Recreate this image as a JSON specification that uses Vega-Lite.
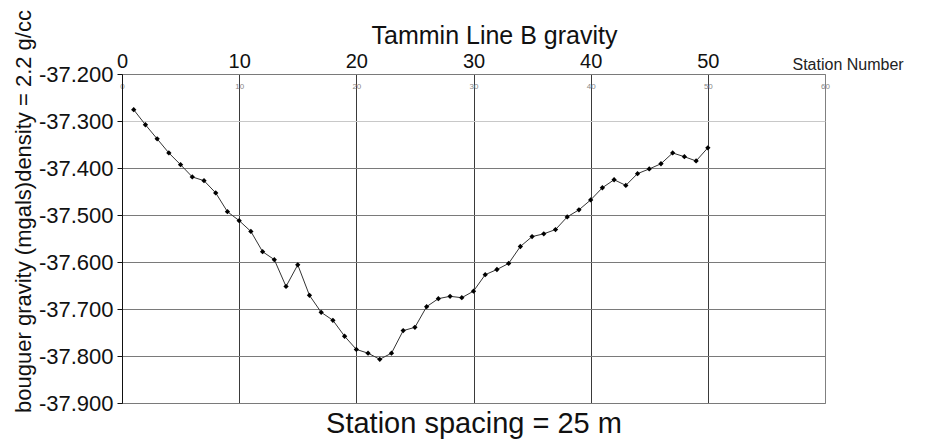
{
  "$schema": "https://vega.github.io/schema/vega-lite/v6.json",
  "width": 703,
  "height": 329,
  "autosize": {"type": "none"},
  "padding": {"left": 122, "top": 74, "right": 111, "bottom": 40},
  "background": "white",
  "title": {"text": "Tammin Line B gravity", "fontSize": 25, "font": "Liberation Sans", "fontWeight": "normal", "color": "#111", "dx": 21, "offset": -39},
  "data": {"values": [
    {"station": 1, "gravity": -37.276},
    {"station": 2, "gravity": -37.308},
    {"station": 3, "gravity": -37.338},
    {"station": 4, "gravity": -37.368},
    {"station": 5, "gravity": -37.393},
    {"station": 6, "gravity": -37.419},
    {"station": 7, "gravity": -37.427},
    {"station": 8, "gravity": -37.453},
    {"station": 9, "gravity": -37.493},
    {"station": 10, "gravity": -37.512},
    {"station": 11, "gravity": -37.535},
    {"station": 12, "gravity": -37.578},
    {"station": 13, "gravity": -37.595},
    {"station": 14, "gravity": -37.652},
    {"station": 15, "gravity": -37.606},
    {"station": 16, "gravity": -37.671},
    {"station": 17, "gravity": -37.707},
    {"station": 18, "gravity": -37.724},
    {"station": 19, "gravity": -37.758},
    {"station": 20, "gravity": -37.786},
    {"station": 21, "gravity": -37.794},
    {"station": 22, "gravity": -37.807},
    {"station": 23, "gravity": -37.794},
    {"station": 24, "gravity": -37.746},
    {"station": 25, "gravity": -37.739},
    {"station": 26, "gravity": -37.695},
    {"station": 27, "gravity": -37.678},
    {"station": 28, "gravity": -37.673},
    {"station": 29, "gravity": -37.676},
    {"station": 30, "gravity": -37.662},
    {"station": 31, "gravity": -37.627},
    {"station": 32, "gravity": -37.616},
    {"station": 33, "gravity": -37.603},
    {"station": 34, "gravity": -37.567},
    {"station": 35, "gravity": -37.546},
    {"station": 36, "gravity": -37.540},
    {"station": 37, "gravity": -37.531},
    {"station": 38, "gravity": -37.504},
    {"station": 39, "gravity": -37.489},
    {"station": 40, "gravity": -37.468},
    {"station": 41, "gravity": -37.442},
    {"station": 42, "gravity": -37.425},
    {"station": 43, "gravity": -37.437},
    {"station": 44, "gravity": -37.412},
    {"station": 45, "gravity": -37.402},
    {"station": 46, "gravity": -37.391},
    {"station": 47, "gravity": -37.368},
    {"station": 48, "gravity": -37.376},
    {"station": 49, "gravity": -37.385},
    {"station": 50, "gravity": -37.357}
  ]},
  "layer": [
    {
      "mark": {"type": "point", "opacity": 0},
      "encoding": {
        "x": {
          "field": "station", "type": "quantitative",
          "scale": {"domain": [0, 60], "nice": false, "zero": false},
          "axis": {
            "orient": "bottom", "values": [10, 20, 30, 40, 50],
            "labels": false, "ticks": false, "domain": false,
            "grid": true, "gridColor": "#3a3a3a", "gridWidth": 1, "gridOpacity": 1,
            "title": "Station spacing = 25 m", "titleFontSize": 29, "titleFontWeight": "normal",
            "titleColor": "#111", "titleFont": "Liberation Sans",
            "titleY": 29, "titleBaseline": "alphabetic"
          }
        },
        "y": {
          "field": "gravity", "type": "quantitative",
          "scale": {"domain": [-37.9, -37.2], "nice": false, "zero": false},
          "axis": {
            "orient": "left",
            "values": [-37.9, -37.8, -37.7, -37.6, -37.5, -37.4, -37.3, -37.2],
            "labelExpr": "replace(format(datum.value, '.3f'), '\u2212', '-')",
            "labelFontSize": 22, "labelColor": "#111", "labelFont": "Liberation Sans",
            "labelPadding": 4, "labelFlush": false,
            "domain": true, "domainColor": "#111", "domainWidth": 1,
            "ticks": true, "tickColor": "#111", "tickSize": 5, "tickWidth": 1,
            "grid": true, "gridOpacity": 1, "gridWidth": 1,
            "gridColor": {"condition": {"test": "abs(datum.value + 37.3) < 0.001", "value": "#c8c8c8"}, "value": "#7a7a7a"},
            "title": "bouguer gravity (mgals)density = 2.2 g/cc",
            "titleFontSize": 22, "titleFontWeight": "normal", "titleColor": "#111", "titleFont": "Liberation Sans",
            "titleAngle": 270, "titleX": -92, "titleY": 137, "titleAlign": "center", "titleBaseline": "alphabetic"
          }
        }
      }
    },
    {
      "mark": {"type": "line", "color": "#333", "strokeWidth": 1,
               "point": {"shape": "diamond", "filled": true, "color": "#000", "size": 28, "opacity": 1}},
      "encoding": {
        "x": {
          "field": "station", "type": "quantitative",
          "axis": {
            "orient": "top", "values": [0, 10, 20, 30, 40, 50],
            "labelFontSize": 20, "labelColor": "#111", "labelFont": "Liberation Sans",
            "labelPadding": 3, "labelFlush": false,
            "ticks": false, "tickSize": 0, "domain": false, "grid": false,
            "title": "Station Number", "titleFontSize": 16, "titleFontWeight": "normal",
            "titleColor": "#222", "titleFont": "Liberation Sans",
            "titleX": 670, "titleY": -5, "titleAlign": "left", "titleBaseline": "alphabetic"
          }
        },
        "y": {"field": "gravity", "type": "quantitative", "axis": null}
      }
    },
    {
      "mark": {"type": "point", "opacity": 0},
      "encoding": {
        "x": {
          "field": "station", "type": "quantitative",
          "axis": {
            "orient": "top", "values": [0, 10, 20, 30, 40, 50, 60],
            "labelFontSize": 8, "labelColor": "#888", "labelFont": "Liberation Sans",
            "labelPadding": -16, "labelFlush": false,
            "ticks": false, "tickSize": 0, "domain": false, "grid": false,
            "title": null
          }
        },
        "y": {"field": "gravity", "type": "quantitative", "axis": null}
      }
    }
  ],
  "resolve": {"axis": {"x": "independent", "y": "independent"}},
  "config": {
    "view": {"stroke": "#808080", "strokeWidth": 1},
    "font": "Liberation Sans"
  }
}
